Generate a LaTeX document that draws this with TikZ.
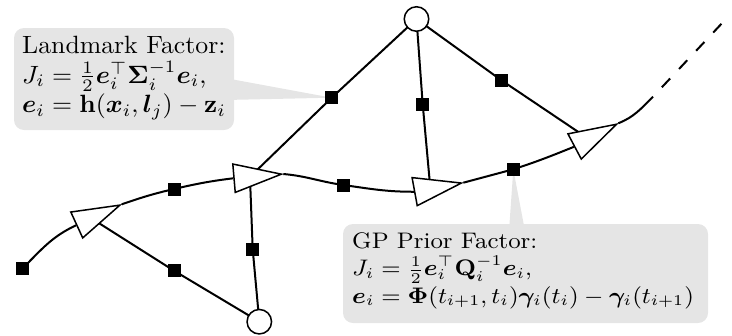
\documentclass[tikz,border=0pt]{standalone}
\usepackage{amsmath,bm}
\usetikzlibrary{shapes.geometric,calc}
\pgfdeclarelayer{bg}
\pgfdeclarelayer{edges}
\pgfsetlayers{bg,edges,main}
\definecolor{cfill}{gray}{0.9}
\tikzset{
  fac/.style={rectangle, fill=black, inner sep=0pt, minimum size=5.2pt},
  lmk/.style={circle, draw, fill=white, line width=0.6pt, inner sep=0pt, minimum size=9.8pt},
  pose/.style={isosceles triangle, isosceles triangle stretches, minimum height=19pt,
    minimum width=11.4pt, inner sep=0pt, draw, fill=white, line width=0.6pt, anchor=apex},
  edge/.style={line width=0.8pt},
  ctext/.style={align=left, inner sep=0pt, anchor=north west, transform shape},
  cbox/.style={fill=cfill, rounded corners=4pt},
}
\begin{document}
\begin{tikzpicture}[x=0.4pt, y=0.4pt]
\useasboundingbox (0,0) rectangle (732,335);
% landmarks
\node[lmk] (lt) at (416.5,316) {};
\node[lmk] (lb) at (259.3,13.3) {};
% poses
\node[pose, rotate=24.7] (p1) at (121.7,130.7) {};
\node[pose, rotate=4.9]  (p2) at (283.3,161) {};
\node[pose, rotate=10.4] (p3) at (463.3,152.3) {};
\node[pose, rotate=27.9] (p4) at (618.3,211.7) {};
\coordinate (c1) at ($(p1.apex)!0.6667!(p1.lower side)$);
\coordinate (c2) at ($(p2.apex)!0.6667!(p2.lower side)$);
\coordinate (c3) at ($(p3.apex)!0.6667!(p3.lower side)$);
\coordinate (c4) at ($(p4.apex)!0.6667!(p4.lower side)$);
% factors
\node[fac] (f0) at (22.7,66.7) {};
\node[fac] (f1) at (174,146) {};
\node[fac] (f2) at (343.3,150) {};
\node[fac] (f3) at (513.3,165.7) {};
\node[fac] (l1) at (331.7,237.3) {};
\node[fac] (l2) at (422.7,230.7) {};
\node[fac] (l3) at (501,255) {};
\node[fac] (b1) at (252.7,85.7) {};
\node[fac] (b2) at (174,64.3) {};
\coordinate (e1) at (653,238.3);
\coordinate (e2) at (725,315);
% texts
\node[ctext, font=\fontsize{10}{11.7}\selectfont, xscale=1.03] (lmtext) at (21.7,299) {Landmark Factor:\\
  $J_i=\frac{1}{2}\bm{e}_i^\top\bm{\Sigma}_i^{-1}\bm{e}_i$,\\
  $\bm{e}_i=\mathbf{h}(\bm{x}_i,\bm{l}_j)-\mathbf{z}_i$};
\node[ctext, font=\small, xscale=1.075] (gptext) at (351.7,103.1) {GP Prior Factor:\\
  $J_i=\frac{1}{2}\bm{e}_i^\top\mathbf{Q}_i^{-1}\bm{e}_i$,\\
  $\bm{e}_i=\bm{\Phi}(t_{i+1},t_i)\bm{\gamma}_i(t_i)-\bm{\gamma}_i(t_{i+1})$};
% callout boxes
\begin{pgfonlayer}{bg}
\fill[cbox] (14,205) rectangle (234,307);
\fill[cfill] (225,257) -- (l1.center) -- (225,235) -- cycle;
\fill[cbox] (343,12) rectangle (708,111);
\fill[cfill] (509,104) -- (f3.center) -- (525,104) -- cycle;
\end{pgfonlayer}
% connectors
\begin{pgfonlayer}{edges}
\draw[edge] (f0.center) to[out=45,in=205] (p1.lower side);
\draw[edge] (p1.apex) to[out=19,in=193] (f1.center) to[out=13,in=187] (p2.lower side);
\draw[edge] (p2.apex) to[out=-5,in=172] (f2.center) to[out=-8,in=180] (p3.lower side);
\draw[edge] (p3.apex) to[out=15,in=195] (f3.center) to[out=18,in=202] (p4.lower side);
\draw[edge] (p4.apex) to[out=22,in=225] (e1);
\draw[edge, dash pattern=on 4.8pt off 5.2pt, dash phase=4.8pt] (e1) -- (e2);
\draw[edge] (lt.center) -- (l1.center) -- (c2);
\draw[edge] (lt.center) -- (l2.center) -- (c3);
\draw[edge] (lt.center) -- (l3.center) -- (c4);
\draw[edge] (lb.center) -- (b1.center) -- (c2);
\draw[edge] (lb.center) -- (b2.center) -- (c1);
\end{pgfonlayer}
\end{tikzpicture}
\end{document}
